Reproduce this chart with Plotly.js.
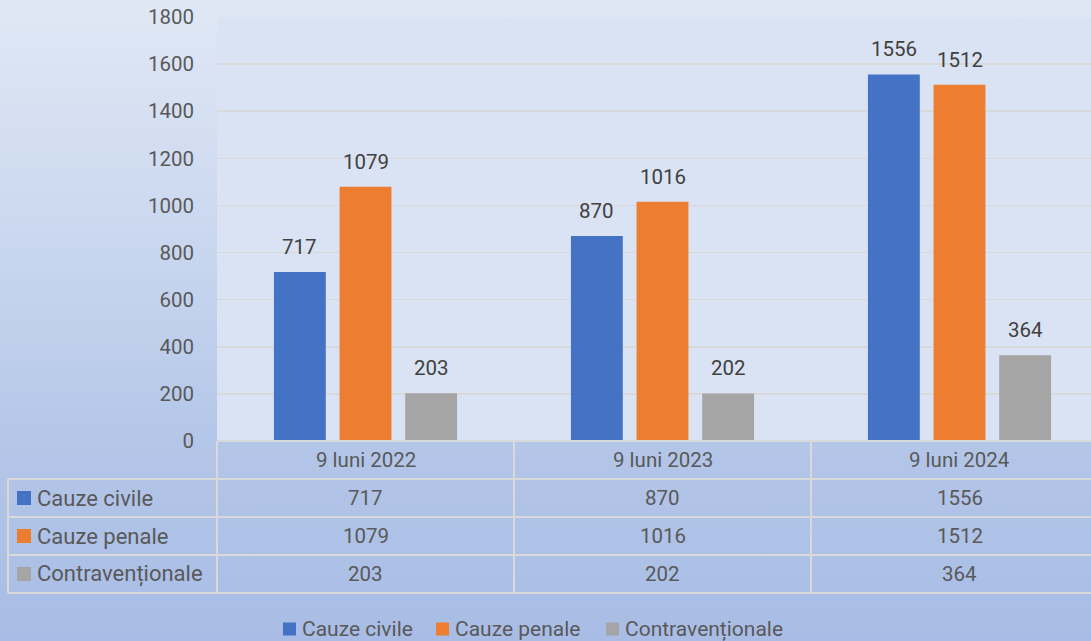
<!DOCTYPE html>
<html>
<head>
<meta charset="utf-8">
<script src="https://cdn.plot.ly/plotly-3.0.1.min.js"></script>
<style>
  html, body { margin: 0; padding: 0; }
  body { width: 1091px; height: 641px; background: linear-gradient(to bottom, #e0e8f5 0%, #cbd8ef 35%, #b3c6e8 70%, #a9bce5 100%); }
  #chart { width: 1091px; height: 641px; }
</style>
</head>
<body>
<div id="chart"></div>
<script>
// ---- data ----
const categories = ["9 luni 2022", "9 luni 2023", "9 luni 2024"];
const seriesNames = ["Cauze civile", "Cauze penale", "Contravenționale"];
const civile = [717, 870, 1556];
const penale = [1079, 1016, 1512];
const contraventionale = [203, 202, 364];
const yTicks = [0, 200, 400, 600, 800, 1000, 1200, 1400, 1600, 1800];

// ---- styling ----
const colors = ["#4472c4", "#ed7d31", "#a5a5a5"];
const seriesValues = [civile, penale, contraventionale];
const FONT = "Roboto, 'Noto Sans', sans-serif";
const textColor = "#595959";
const labelColor = "#404040";
const lineColor = "#d9d9d9";

const W = 1091, H = 641;
const L = 217, T = 17, B = 441;          // plot pixel box (right edge = W)
const plotW = W - L, plotH = B - T;
const px = x => (x - L) / plotW;         // pixel -> paper x
const py = y => (B - y) / plotH;         // pixel -> paper y

const slot = 0.2212;                      // group slot in category units

const traces = seriesNames.map((name, i) => ({
  type: "bar",
  name: name,
  x: [0, 1, 2],
  y: seriesValues[i],
  marker: { color: colors[i] },
  showlegend: false,
  hoverinfo: "y"
}));

const shapes = [];
const annotations = [];

// data labels above bars
seriesValues.forEach((vals, i) => {
  vals.forEach((v, j) => {
    annotations.push({
      x: j + (i - 1) * slot, y: v, xref: "x", yref: "y",
      text: String(v), showarrow: false, yanchor: "middle", yshift: 25,
      font: { family: FONT, size: 20.5, color: labelColor }
    });
  });
});

// table grid
const rowY = [441, 479, 517, 555, 593];
const colX = [L, L + 297, L + 594];
const tableLeft = 8;
const lw = 2;
shapes.push({ type: "line", xref: "paper", yref: "paper", x0: px(L), x1: 1.02, y0: py(441), y1: py(441), line: { color: lineColor, width: lw } });
for (let r = 1; r < rowY.length; r++) {
  shapes.push({ type: "line", xref: "paper", yref: "paper", x0: px(tableLeft), x1: 1.02, y0: py(rowY[r]), y1: py(rowY[r]), line: { color: lineColor, width: lw } });
}
shapes.push({ type: "line", xref: "paper", yref: "paper", x0: px(tableLeft), x1: px(tableLeft), y0: py(479), y1: py(593), line: { color: lineColor, width: lw } });
colX.forEach(cx => {
  shapes.push({ type: "line", xref: "paper", yref: "paper", x0: px(cx), x1: px(cx), y0: py(441), y1: py(593), line: { color: lineColor, width: lw } });
});

// header row: category names
categories.forEach((c, j) => {
  annotations.push({
    x: j, xref: "x", y: py(460), yref: "paper", text: c, showarrow: false,
    xanchor: "center", yanchor: "middle", font: { family: FONT, size: 20.5, color: textColor }
  });
});

// rows
seriesNames.forEach((name, i) => {
  const cy = (rowY[i + 1] + rowY[i + 2]) / 2;
  shapes.push({ type: "rect", xref: "paper", yref: "paper", x0: px(17), x1: px(31), y0: py(cy - 7), y1: py(cy + 7), fillcolor: colors[i], line: { width: 0 } });
  annotations.push({
    x: px(35), xref: "paper", y: py(cy), yref: "paper", text: name, showarrow: false,
    xanchor: "left", yanchor: "middle", font: { family: FONT, size: 22, color: textColor }
  });
  seriesValues[i].forEach((v, j) => {
    annotations.push({
      x: j, xref: "x", y: py(cy), yref: "paper", text: String(v), showarrow: false,
      xanchor: "center", yanchor: "middle", font: { family: FONT, size: 20.5, color: textColor }
    });
  });
});

// legend at bottom
const legMarkerX = [283, 436, 606];
const legY = 629;
seriesNames.forEach((name, i) => {
  shapes.push({ type: "rect", xref: "paper", yref: "paper", x0: px(legMarkerX[i]), x1: px(legMarkerX[i] + 13), y0: py(legY - 6.5), y1: py(legY + 6.5), fillcolor: colors[i], line: { width: 0 } });
  annotations.push({
    x: px(legMarkerX[i] + 17), xref: "paper", y: py(legY), yref: "paper", text: name, showarrow: false,
    xanchor: "left", yanchor: "middle", font: { family: FONT, size: 21, color: textColor }
  });
});

const layout = {
  width: W, height: H,
  margin: { l: L, r: 0, t: T, b: H - B, pad: 0 },
  paper_bgcolor: "rgba(0,0,0,0)",
  plot_bgcolor: "#dae3f3",
  barmode: "group",
  bargap: 0.337,
  bargroupgap: 0.21,
  showlegend: false,
  font: { family: FONT, color: textColor },
  xaxis: {
    range: [-0.5, -0.5 + plotW / 297],
    showticklabels: false, showgrid: false, zeroline: false, ticks: "", fixedrange: true
  },
  yaxis: {
    range: [0, 1800], tickvals: yTicks, ticktext: yTicks.map(String),
    showgrid: true, gridcolor: lineColor, gridwidth: 1.5, zeroline: false,
    ticks: "", ticklabelstandoff: 22,
    tickfont: { family: FONT, size: 20.5, color: textColor }, fixedrange: true
  },
  shapes: shapes,
  annotations: annotations
};

Plotly.newPlot("chart", traces, layout, { displayModeBar: false, staticPlot: true });
</script>
</body>
</html>
